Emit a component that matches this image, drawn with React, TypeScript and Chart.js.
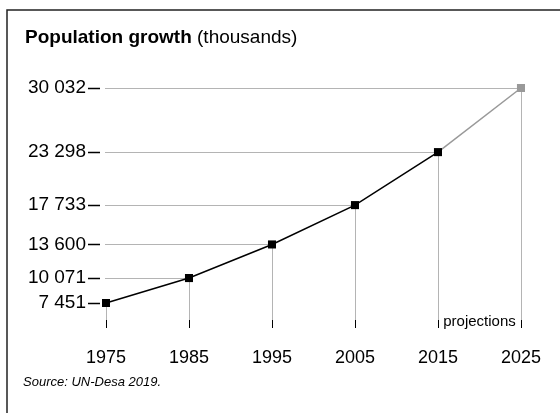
import React, { useEffect, useRef } from "react";
import { Chart, registerables } from "chart.js";

Chart.register(...registerables);

const years: number[] = [1975, 1985, 1995, 2005, 2015, 2025];
const population: number[] = [7451, 10071, 13600, 17733, 23298, 30032];
const yTickValues: number[] = [7451, 10071, 13600, 17733, 23298, 30032];
const projectedFrom = 4; // index of last observed point (2015)

const titleBold = "Population growth";
const titleNormal = " (thousands)";
const sourceText = "Source: UN-Desa 2019.";
const projectionsLabel = "projections";

const FONT = '"Liberation Sans", Arial, Helvetica, sans-serif';
const BLACK = "#000000";
const GREY_LINE = "#999999";
const GRID = "#b4b4b4";

const fmt = (v: number) => String(Math.round(v)).replace(/\B(?=(\d{3})+(?!\d))/g, " ");

const decorPlugin = {
  id: "decor",
  beforeDraw(chart: any) {
    const ctx = chart.ctx;
    ctx.save();
    // frame
    ctx.strokeStyle = "#222";
    ctx.lineWidth = 1.5;
    ctx.beginPath();
    ctx.moveTo(7, 413);
    ctx.lineTo(7, 10);
    ctx.lineTo(560, 10);
    ctx.stroke();
    // title
    ctx.fillStyle = BLACK;
    ctx.textBaseline = "alphabetic";
    ctx.textAlign = "left";
    ctx.font = `bold 19px ${FONT}`;
    ctx.fillText(titleBold, 25, 43);
    const w = ctx.measureText(titleBold).width;
    ctx.font = `19px ${FONT}`;
    ctx.fillText(titleNormal, 25 + w, 43);
    // source
    ctx.font = `italic 13px ${FONT}`;
    ctx.textBaseline = "middle";
    ctx.fillText(sourceText, 23, 382);
    ctx.restore();
  },
  beforeDatasetsDraw(chart: any) {
    const ctx = chart.ctx;
    const xs = chart.scales.x;
    const ys = chart.scales.y;
    const area = chart.chartArea;
    ctx.save();
    // horizontal guide lines from axis to each point
    years.forEach((yr, i) => {
      const px = xs.getPixelForValue(yr);
      const py = Math.round(ys.getPixelForValue(population[i])) + 0.5;
      ctx.strokeStyle = GRID;
      ctx.lineWidth = 1;
      ctx.beginPath();
      ctx.moveTo(area.left - 1, py);
      ctx.lineTo(px, py);
      ctx.stroke();
      // vertical lines down to tick
      const vx = Math.round(px) + 0.5;
      ctx.beginPath();
      ctx.moveTo(vx, ys.getPixelForValue(population[i]));
      ctx.lineTo(vx, area.bottom - 8);
      ctx.stroke();
      // black tick
      ctx.strokeStyle = BLACK;
      ctx.beginPath();
      ctx.moveTo(vx, area.bottom - 8);
      ctx.lineTo(vx, area.bottom);
      ctx.stroke();
    });
    // y dashes after labels
    yTickValues.forEach((v) => {
      const py = Math.round(ys.getPixelForValue(v)) + 0.5;
      ctx.strokeStyle = BLACK;
      ctx.lineWidth = 1.5;
      ctx.beginPath();
      ctx.moveTo(area.left - 18, py);
      ctx.lineTo(area.left - 6, py);
      ctx.stroke();
    });
    // projections label
    const x1 = xs.getPixelForValue(years[projectedFrom]);
    const x2 = xs.getPixelForValue(years[years.length - 1]);
    ctx.fillStyle = BLACK;
    ctx.font = `15px ${FONT}`;
    ctx.textAlign = "center";
    ctx.textBaseline = "middle";
    ctx.fillText(projectionsLabel, (x1 + x2) / 2, area.bottom - 6);
    ctx.restore();
  },
};

export default function App() {
  const ref = useRef<HTMLCanvasElement | null>(null);

  useEffect(() => {
    if (!ref.current) return;
    const span = yTickValues[yTickValues.length - 1] - yTickValues[0];
    const yMin = yTickValues[0] - (25 / 215) * span;
    const chart = new Chart(ref.current, {
      type: "line",
      data: {
        datasets: [
          {
            data: years.map((yr, i) => ({ x: yr, y: population[i] })),
            borderColor: BLACK,
            borderWidth: 1.5,
            segment: {
              borderColor: (c: any) => (c.p0DataIndex >= projectedFrom ? GREY_LINE : BLACK),
            },
            pointStyle: "rect",
            pointRadius: 5.7,
            pointBorderWidth: 0,
            pointBackgroundColor: years.map((_, i) => (i > projectedFrom ? GREY_LINE : BLACK)),
            pointBorderColor: years.map((_, i) => (i > projectedFrom ? GREY_LINE : BLACK)),
            tension: 0,
            clip: false as any,
          },
        ],
      },
      options: {
        responsive: false,
        animation: false,
        events: [],
        layout: { padding: { left: 0, right: 38, top: 88, bottom: 0 } },
        plugins: { legend: { display: false }, tooltip: { enabled: false }, title: { display: false } },
        scales: {
          x: {
            type: "linear",
            min: years[0],
            max: years[years.length - 1],
            grid: { display: false, drawTicks: false },
            border: { display: false },
            ticks: {
              stepSize: 10,
              padding: 19,
              color: BLACK,
              font: { family: FONT, size: 18 },
              callback: (v: any) => String(v),
              maxRotation: 0,
            },
            afterFit: (s: any) => {
              s.height = 85;
            },
          },
          y: {
            type: "linear",
            min: yMin,
            max: yTickValues[yTickValues.length - 1],
            grid: { display: false, drawTicks: false },
            border: { display: false },
            afterBuildTicks: (s: any) => {
              s.ticks = yTickValues.map((v) => ({ value: v }));
            },
            ticks: {
              autoSkip: false,
              padding: 20,
              color: BLACK,
              font: { family: FONT, size: 19 },
              callback: (v: any) => fmt(Number(v)),
            },
            afterFit: (s: any) => {
              s.width = 106;
            },
          },
        },
      },
      plugins: [decorPlugin],
    });
    return () => chart.destroy();
  }, []);

  return (
    <div style={{ position: "fixed", left: 0, top: 0, width: 560, height: 413, background: "#fff" }}>
      <canvas ref={ref} width={560} height={413} style={{ display: "block" }} />
    </div>
  );
}
